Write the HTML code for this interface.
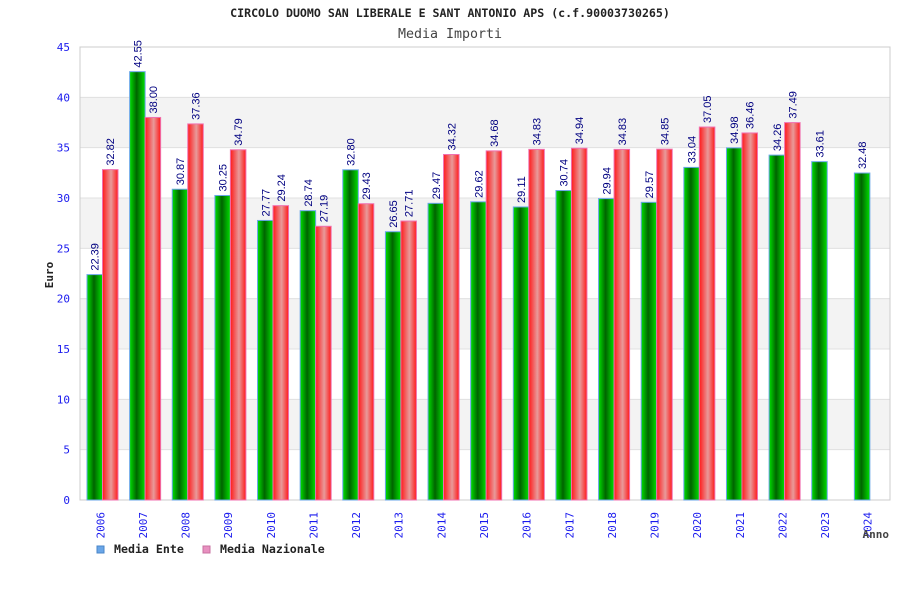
<!DOCTYPE html>
<html><head><meta charset="utf-8"><style>
body{margin:0;background:#fff;}
svg{display:block;font-family:"DejaVu Sans Mono","Liberation Mono",monospace;}
</style></head><body>
<svg id="chart" width="900" height="600">
<defs>
<linearGradient id="gG" x1="0" x2="1"><stop offset="0" stop-color="#00e000"/><stop offset="0.45" stop-color="#006400"/><stop offset="1" stop-color="#00e000"/></linearGradient>
<linearGradient id="gR" x1="0" x2="1"><stop offset="0" stop-color="#ff1a1a"/><stop offset="0.55" stop-color="#e89a9a"/><stop offset="1" stop-color="#ff1a1a"/></linearGradient>
</defs>
<text x="450" y="17" text-anchor="middle" font-size="11.6" font-weight="bold" fill="#222">CIRCOLO DUOMO SAN LIBERALE E SANT ANTONIO APS (c.f.90003730265)</text>
<text x="450" y="38" text-anchor="middle" font-size="13.3" fill="#444">Media Importi</text>
<g id="plot"></g>
<text transform="rotate(-90 53 275)" x="53" y="275" text-anchor="middle" font-size="11" font-weight="bold" fill="#222">Euro</text>
<text x="889" y="538" text-anchor="end" font-size="11" font-weight="bold" fill="#444">Anno</text>
<g>
<rect x="97" y="546" width="7" height="7" fill="#6aa6e8" stroke="#4a86c8"/>
<text x="114" y="553" font-size="11.6" font-weight="bold" fill="#222">Media Ente</text>
<rect x="203" y="546" width="7" height="7" fill="#e890c0" stroke="#c870a0"/>
<text x="220" y="553" font-size="11.6" font-weight="bold" fill="#222">Media Nazionale</text>
</g>
</svg>
<script>
const years=["2006","2007","2008","2009","2010","2011","2012","2013","2014","2015","2016","2017","2018","2019","2020","2021","2022","2023","2024"];
const ente=[22.39,42.55,30.87,30.25,27.77,28.74,32.80,26.65,29.47,29.62,29.11,30.74,29.94,29.57,33.04,34.98,34.26,33.61,32.48];
const nazionale=[32.82,38.00,37.36,34.79,29.24,27.19,29.43,27.71,34.32,34.68,34.83,34.94,34.83,34.85,37.05,36.46,37.49,null,null];
const yTicks=[0,5,10,15,20,25,30,35,40,45];
const NS="http://www.w3.org/2000/svg";
const X0=80,X1=890,Y0=500,Y1=47,YMAX=45;
const y=v=>Y0-(v/YMAX)*(Y0-Y1);
const step=(X1-X0)/years.length;
const gx=i=>X0+i*step;
const g=document.getElementById('plot');
function mk(t,a,txt){const e=document.createElementNS(NS,t);for(const k in a)e.setAttribute(k,a[k]);if(txt!=null)e.textContent=txt;g.appendChild(e);return e;}
for(let i=0;i<yTicks.length-1;i++){
  const r=mk('rect',{x:X0,y:y(yTicks[i+1]),width:X1-X0,height:y(yTicks[i])-y(yTicks[i+1]),fill:i%2?'#f3f3f3':'#fff'});
  
  
}
yTicks.forEach(v=>{
  const l=mk('line',{x1:X0,x2:X1,y1:y(v),y2:y(v),stroke:'#e0e0e0'});
  
  
  const t=mk('text',{x:X0-10,y:y(v)+4,'text-anchor':'end','font-size':11,fill:'#1a1aee'},String(v));
  
  
});
mk('rect',{x:X0,y:Y1,width:X1-X0,height:Y0-Y1,fill:'none',stroke:'#ccc'});
const bw=15.5;
years.forEach((yr,i)=>{
  const bx=gx(i)+7;
  const v=ente[i];
  const b=mk('rect',{x:bx,y:y(v),width:bw,height:Y0-y(v),fill:'url(#gG)',stroke:'#6aa6e8','stroke-width':1});
  
  
  const tx=bx+bw/2+4, ty=y(v)-4;
  const t=mk('text',{x:tx,y:ty,transform:`rotate(-90 ${tx} ${ty})`,'font-size':11,fill:'#000080','font-family':'Liberation Sans, sans-serif'},v.toFixed(2));
  
  
  const n=nazionale[i];
  if(n!=null){
    const rx=bx+bw;
    const r=mk('rect',{x:rx,y:y(n),width:bw,height:Y0-y(n),fill:'url(#gR)',stroke:'#f070b0','stroke-width':1});
    
    
    const nx=rx+bw/2+4, ny=y(n)-4;
    const t2=mk('text',{x:nx,y:ny,transform:`rotate(-90 ${nx} ${ny})`,'font-size':11,fill:'#000080','font-family':'Liberation Sans, sans-serif'},n.toFixed(2));
    
    
  }
  const lx=gx(i)+step/2+3, ly=512;
  const xl=mk('text',{x:lx,y:ly,transform:`rotate(-90 ${lx} ${ly})`,'text-anchor':'end','font-size':11,fill:'#1a1aee'},yr);
  
  
});
</script>
</body></html>
